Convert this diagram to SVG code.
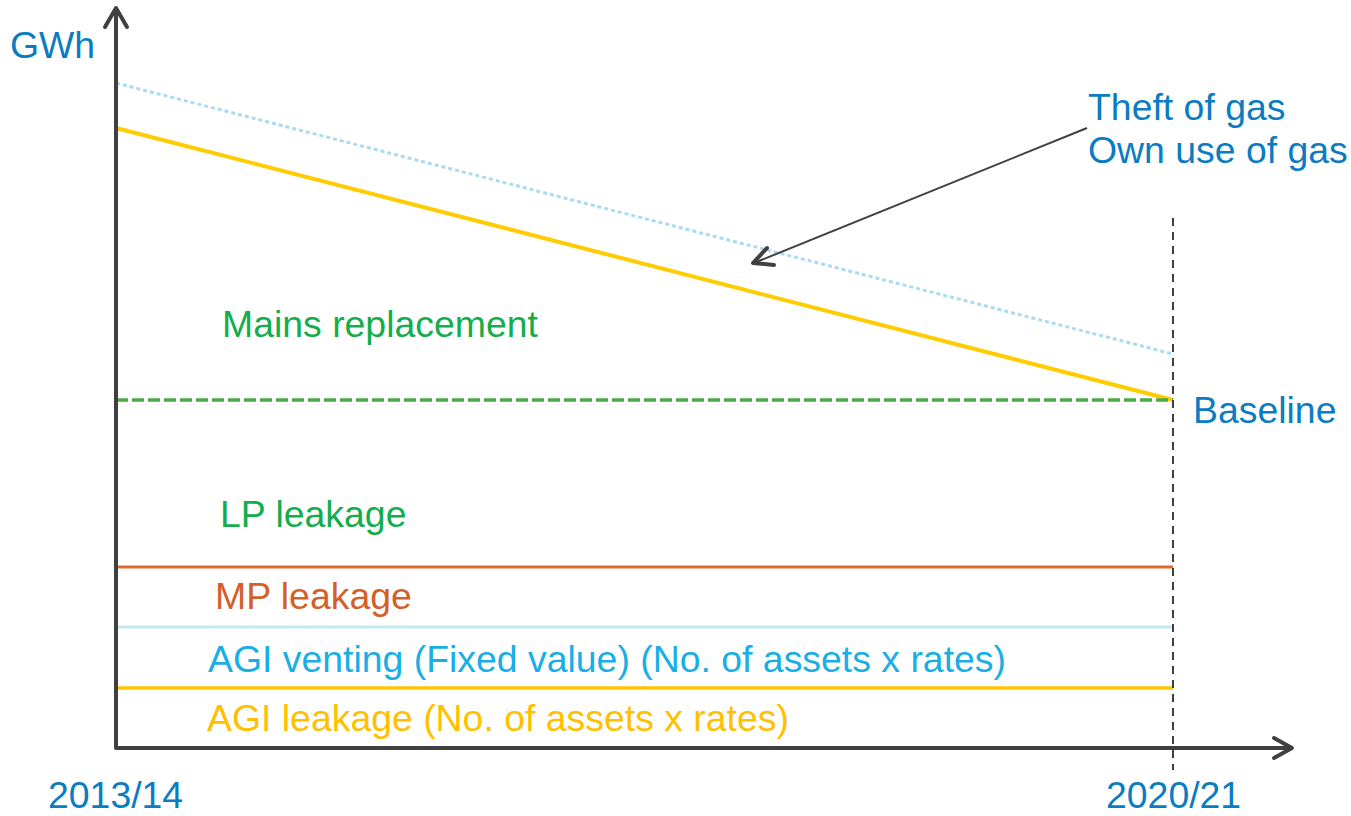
<svg xmlns="http://www.w3.org/2000/svg" width="1351" height="816" viewBox="0 0 1351 816">
  <style>
    text { font-family: "Liberation Sans", Arial, sans-serif; font-size: 37.4px; }
    .blue { fill: #0b7cc1; }
    .green { fill: #13ad4c; }
    .orange { fill: #d55f29; }
    .cyan { fill: #19aee6; }
    .gold { fill: #ffc000; }
    .axis { stroke: #404040; stroke-width: 4; fill: none; stroke-linecap: round; stroke-linejoin: round; }
  </style>
  <rect width="1351" height="816" fill="#ffffff"/>

  <g id="connectors">
    <!-- data series -->
    <line x1="116" y1="83" x2="1173" y2="354" stroke="#a9dcf3" stroke-width="3" stroke-dasharray="4 3"/>
    <line x1="116" y1="128" x2="1173" y2="400" stroke="#ffcc00" stroke-width="4"/>
    <line x1="116" y1="400" x2="1173" y2="400" stroke="#4caa45" stroke-width="3.5" stroke-dasharray="12 4"/>
    <line x1="116" y1="567" x2="1173" y2="567" stroke="#df6a2f" stroke-width="3"/>
    <line x1="116" y1="627" x2="1173" y2="627" stroke="#c6e8f6" stroke-width="3"/>
    <line x1="116" y1="688" x2="1173" y2="688" stroke="#ffc600" stroke-width="3.5"/>
    <!-- end marker -->
    <line x1="1173" y1="218" x2="1173" y2="770" stroke="#404040" stroke-width="2" stroke-dasharray="8 6"/>
    <!-- axes -->
    <polyline class="axis" points="116,9 116,748 1291,748"/>
    <polyline class="axis" points="105,27 116,8 127,27"/>
    <polyline class="axis" points="1274,738 1292,748 1274,758"/>
    <!-- callout pointer -->
    <line x1="1087" y1="128" x2="754" y2="263" stroke="#404040" stroke-width="2"/>
    <polyline class="axis" points="767,248 753,263 774,265"/>
  </g>

  <g id="axis-labels">
    <text class="blue" x="10" y="58">GWh</text>
    <text class="blue" x="48" y="808">2013/14</text>
    <text class="blue" x="1106" y="808">2020/21</text>
  </g>
  <g id="label-theft">
    <text class="blue" x="1088" y="120">Theft of gas</text>
    <text class="blue" x="1088" y="163">Own use of gas</text>
  </g>
  <g id="label-baseline"><text class="blue" x="1193" y="423">Baseline</text></g>
  <g id="label-mains"><text class="green" x="222" y="337">Mains replacement</text></g>
  <g id="label-lp"><text class="green" x="220" y="527">LP leakage</text></g>
  <g id="label-mp"><text class="orange" x="215" y="609">MP leakage</text></g>
  <g id="label-agi-venting"><text class="cyan" x="208" y="672">AGI venting (Fixed value) (No. of assets x rates)</text></g>
  <g id="label-agi-leakage"><text class="gold" x="207" y="731">AGI leakage (No. of assets x rates)</text></g>
</svg>
